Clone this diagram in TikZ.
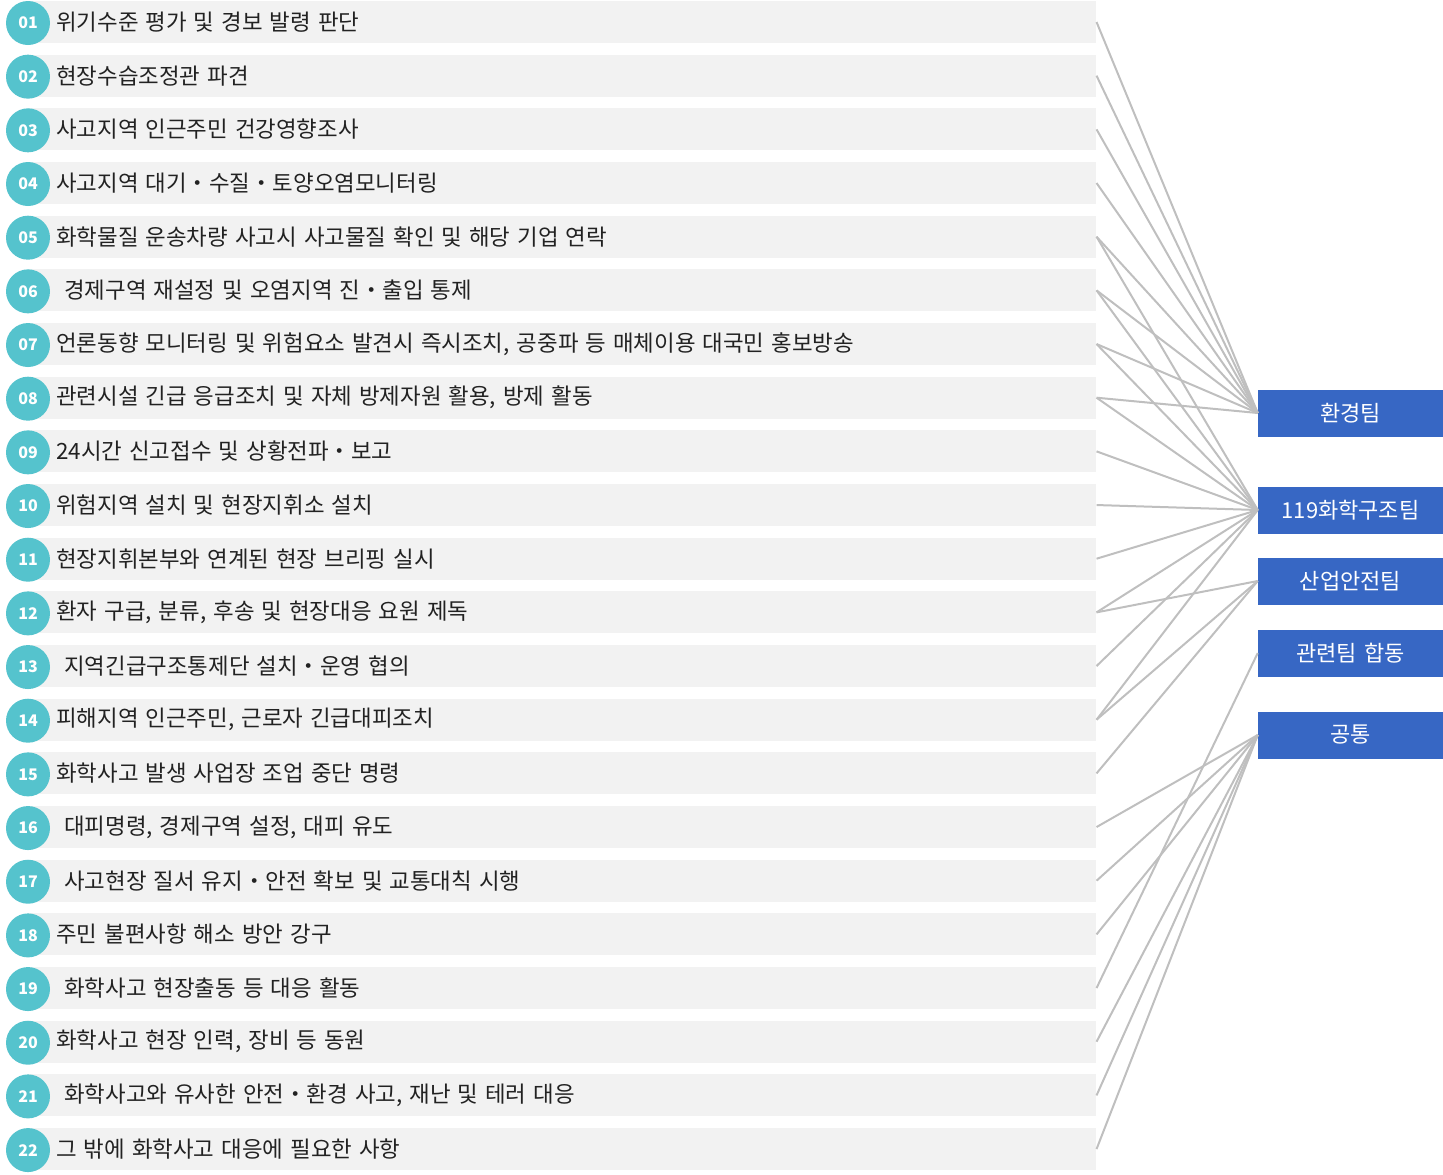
\documentclass[tikz,border=0pt]{standalone}
\usepackage{fontspec}
\setmainfont[WordSpace=1.4]{Noto Sans CJK KR}
\definecolor{bargray}{HTML}{F2F2F2}
\definecolor{tealc}{HTML}{55C3CD}
\definecolor{teamblue}{HTML}{3767C4}
\definecolor{linegray}{HTML}{BFBFBF}
\definecolor{txt}{HTML}{222222}
\tikzset{
  rowbar/.style={fill=bargray, draw=none, anchor=west, minimum width=801pt, minimum height=31.5pt, inner sep=0pt},
  numcircle/.style={circle, fill=tealc, draw=none, minimum size=33pt, inner sep=0pt, text=white, font=\bfseries\fontsize{12pt}{13pt}\selectfont},
  rowtext/.style={anchor=west, inner sep=0pt, text=txt, font=\fontsize{16.8pt}{18pt}\selectfont},
  teambox/.style={fill=teamblue, draw=none, minimum width=138.75pt, minimum height=35.25pt, inner sep=0pt, text=white, font=\fontsize{16.5pt}{18pt}\selectfont},
  conn/.style={draw=linegray, line width=1.5pt}
}
\begin{document}
\begin{tikzpicture}[x=0.75pt,y=-0.75pt]
\useasboundingbox (0,0) rectangle (1443,1175);
\foreach \i/\n/\t/\s in {
 1/01/{위기수준 평가 및 경보 발령 판단}/0,
 2/02/{현장수습조정관 파견}/0,
 3/03/{사고지역 인근주민 건강영향조사}/0,
 4/04/{사고지역 대기・수질・토양오염모니터링}/0,
 5/05/{화학물질 운송차량 사고시 사고물질 확인 및 해당 기업 연락}/0,
 6/06/{경제구역 재설정 및 오염지역 진・출입 통제}/8,
 7/07/{언론동향 모니터링 및 위험요소 발견시 즉시조치, 공중파 등 매체이용 대국민 홍보방송}/0,
 8/08/{관련시설 긴급 응급조치 및 자체 방제자원 활용, 방제 활동}/0,
 9/09/{24시간 신고접수 및 상황전파・보고}/0,
 10/10/{위험지역 설치 및 현장지휘소 설치}/0,
 11/11/{현장지휘본부와 연계된 현장 브리핑 실시}/0,
 12/12/{환자 구급, 분류, 후송 및 현장대응 요원 제독}/0,
 13/13/{지역긴급구조통제단 설치・운영 협의}/8,
 14/14/{피해지역 인근주민, 근로자 긴급대피조치}/0,
 15/15/{화학사고 발생 사업장 조업 중단 명령}/0,
 16/16/{대피명령, 경제구역 설정, 대피 유도}/8,
 17/17/{사고현장 질서 유지・안전 확보 및 교통대칙 시행}/8,
 18/18/{주민 불편사항 해소 방안 강구}/0,
 19/19/{화학사고 현장출동 등 대응 활동}/8,
 20/20/{화학사고 현장 인력, 장비 등 동원}/0,
 21/21/{화학사고와 유사한 안전・환경 사고, 재난 및 테러 대응}/8,
 22/22/{그 밖에 화학사고 대응에 필요한 사항}/0}{
  \pgfmathsetmacro{\yy}{22+(\i-1)*53.67}
  \node[rowbar] (b\i) at (28,\yy) {};
  \node[numcircle] (c\i) at (28,\yy+1) {\n};
  \node[rowtext] (t\i) at (56+\s,\yy) {\t};
}
\node[teambox] (env) at (1350.5,413) {환경팀};
\node[teambox] (fire) at (1350.5,510) {119화학구조팀};
\node[teambox] (ind) at (1350.5,581) {산업안전팀};
\node[teambox] (joint) at (1350.5,653) {관련팀 합동};
\node[teambox] (common) at (1350.5,735) {공통};
\foreach \i in {1,...,8} \draw[conn] (b\i.east) -- (env.west);
\foreach \i in {5,...,14} \draw[conn] (b\i.east) -- (fire.west);
\foreach \i in {12,14,15} \draw[conn] (b\i.east) -- (ind.west);
\foreach \i in {19} \draw[conn] (b\i.east) -- (joint.west);
\foreach \i in {16,17,18,20,21,22} \draw[conn] (b\i.east) -- (common.west);
\end{tikzpicture}
\end{document}
